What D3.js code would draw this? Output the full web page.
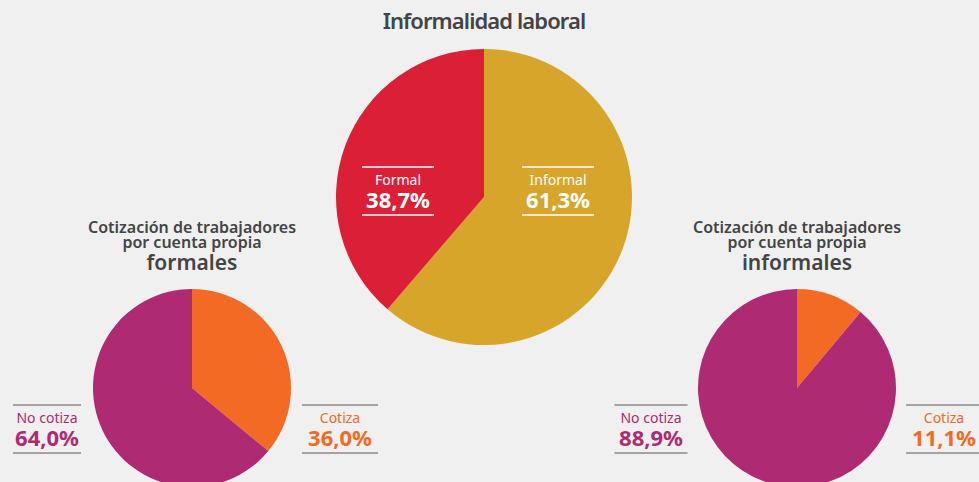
<!DOCTYPE html>
<html>
<head>
<meta charset="utf-8">
<script src="https://cdn.jsdelivr.net/npm/d3@7"></script>
<style>
  body { margin: 0; background: #f0f0f0; }
  svg { display: block; font-family: "Noto Sans", sans-serif; }
</style>
</head>
<body>
<div id="chart"></div>
<script>
// data
var mainCategories = ["Informal", "Formal"];
var mainValues = [61.3, 38.7];
var mainColors = ["#d6a52a", "#db1f37"];

var formalesCategories = ["Cotiza", "No cotiza"];
var formalesValues = [36.0, 64.0];

var informalesCategories = ["Cotiza", "No cotiza"];
var informalesValues = [11.1, 88.9];

var subColors = ["#f26a24", "#ae2a72"];

var fmt = function(v){ return d3.format(".1f")(v).replace(".", ",") + "%"; };

var width = 979, height = 482;

var svg = d3.select("#chart").append("svg")
    .attr("width", width)
    .attr("height", height);

svg.append("rect").attr("width", width).attr("height", height).attr("fill", "#f0f0f0");

var pie = d3.pie().sort(null).value(function(d){ return d.value; });

function drawPie(cfg){
    var data = cfg.categories.map(function(c, i){ return { name: c, value: cfg.values[i], color: cfg.colors[i] }; });
    var arc = d3.arc().innerRadius(0).outerRadius(cfg.r);

    var g = svg.append("g")
        .attr("transform", "translate(" + cfg.cx + "," + cfg.cy + ")");

    g.selectAll("path")
        .data(pie(data))
        .enter().append("path")
        .attr("d", arc)
        .attr("fill", function(d){ return d.data.color; });

    // labels
    data.forEach(function(d, i){
        var lab = cfg.labels[i];
        var lg = svg.append("g")
            .attr("transform", "translate(" + (cfg.cx + lab.dx) + "," + (cfg.cy + lab.dy) + ")");
        var col = cfg.inside ? "#ffffff" : d.color;
        var lineCol = cfg.inside ? "#ffffff" : "#8a8a8a";
        lg.append("line").attr("x1", -lab.w / 2).attr("x2", lab.w / 2)
            .attr("y1", 0).attr("y2", 0)
            .attr("stroke", lineCol).attr("stroke-width", 1.5);
        lg.append("text").attr("text-anchor", "middle").attr("y", 18)
            .attr("fill", col).attr("font-size", 14).attr("font-weight", 400)
            .text(d.name);
        lg.append("text").attr("text-anchor", "middle").attr("y", 41)
            .attr("fill", col).attr("font-size", 22).attr("font-weight", 700)
            .text(fmt(d.value));
        lg.append("line").attr("x1", -lab.w / 2).attr("x2", lab.w / 2)
            .attr("y1", 48).attr("y2", 48)
            .attr("stroke", lineCol).attr("stroke-width", 1.5);
    });
}

// main pie
svg.append("text")
    .attr("x", 484).attr("y", 29)
    .attr("text-anchor", "middle")
    .attr("fill", "#444")
    .attr("font-size", 22).attr("font-weight", 600)
    .attr("letter-spacing", -0.9)
    .text("Informalidad laboral");

drawPie({
    categories: mainCategories, values: mainValues, colors: mainColors,
    cx: 484, cy: 197, r: 148, inside: true,
    labels: [{ dx: 74, dy: -30, w: 72 }, { dx: -86, dy: -30, w: 72 }]
});

// sub titles
function subTitle(cx, word){
    var t = svg.append("text").attr("text-anchor", "middle").attr("fill", "#444").attr("font-weight", 600);
    t.append("tspan").attr("x", cx).attr("y", 233).attr("font-size", 16).text("Cotización de trabajadores");
    t.append("tspan").attr("x", cx).attr("y", 248).attr("font-size", 16).text("por cuenta propia");
    t.append("tspan").attr("x", cx).attr("y", 270).attr("font-size", 21).text(word);
}
subTitle(192, "formales");
subTitle(797, "informales");

drawPie({
    categories: formalesCategories, values: formalesValues, colors: subColors,
    cx: 192, cy: 388, r: 99, inside: false,
    labels: [{ dx: 148, dy: 17, w: 76 }, { dx: -145, dy: 17, w: 68 }]
});

drawPie({
    categories: informalesCategories, values: informalesValues, colors: subColors,
    cx: 797, cy: 388, r: 99, inside: false,
    labels: [{ dx: 147, dy: 17, w: 76 }, { dx: -146, dy: 17, w: 73 }]
});
</script>
</body>
</html>
